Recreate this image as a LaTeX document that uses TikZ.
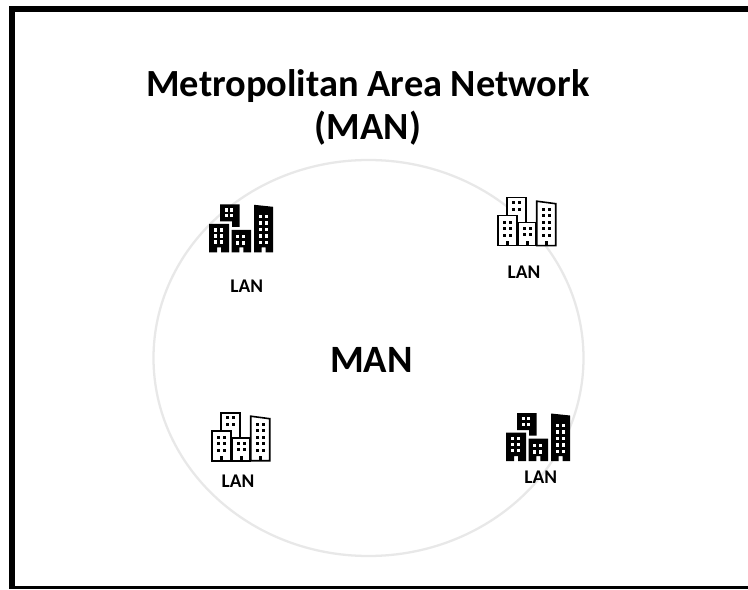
\documentclass[tikz,border=0pt]{standalone}
\usepackage{fontspec}
\setmainfont{Carlito}
\newcommand{\win}[4]{\foreach \wx in {#1}{\foreach \wy in {#2}{\fill[#3] (\wx,\wy) rectangle ++(#4,#4);}}}
\newcommand{\darkicon}[2]{\begin{scope}[shift={(#1,#2)}]
 \fill[black] (11,47.8)--(30.5,47.8)--(30.5,25.5)--(23,25.5)--(23,31)--(11,31)--cycle;
 \fill[black] (0,0)--(0,28.5)--(20,28.5)--(20,0)--(12,0)--(12,5)--(8,5)--(8,0)--cycle;
 \fill[black] (22.5,0)--(22.5,22.5)--(42,22.5)--(42,0)--(34.3,0)--(34.3,5)--(30.3,5)--(30.3,0)--cycle;
 \fill[black] (45,0)--(45,47.5)--(64,45.5)--(64,0)--(56.5,0)--(56.5,5)--(52.5,5)--(52.5,0)--cycle;
 \win{15.5,21}{35,40.6}{white}{3.4}
 \win{4.5,10.5}{8.6,14.6,20.6}{white}{3.4}
 \win{27,32.8}{7.5,13.8}{white}{3.4}
 \win{50,56}{8,14.5,21,27.5,34}{white}{3.4}
\end{scope}}
\newcommand{\lighticon}[2]{\begin{scope}[shift={(#1,#2)},line width=1.2]
 \draw[black,fill=white] (9,25)--(9,48)--(28.5,48)--(28.5,22);
 \draw[black,fill=white] (0,0) rectangle (19.5,30);
 \draw[black,fill=white] (20,0) rectangle (38.5,23);
 \draw[black,fill=white] (39,0)--(39,44.5)--(58,42)--(58,0)--cycle;
 \win{14,20.5}{35,41.5}{black}{2.8}
 \win{5,11.5}{9,15.5,22}{black}{2.8}
 \win{25,31.5}{9.5,16}{black}{2.8}
 \win{44,50.5}{9,15.5,22,28.5,35}{black}{2.8}
 \fill[black] (8.2,0) rectangle (11.4,5);
 \fill[black] (27.8,0) rectangle (31,5);
 \fill[black] (47,0) rectangle (50.2,5);
\end{scope}}
\tikzset{
 lanlabel/.style={font=\fontsize{14.5}{17}\selectfont\bfseries,text=black,inner sep=0pt},
 titlelabel/.style={font=\fontsize{28.8}{32}\selectfont\bfseries,text=black,align=center,inner sep=0pt},
 manlabel/.style={font=\fontsize{29}{32}\selectfont\bfseries,text=black,inner sep=0pt},
 ring/.style={draw=black!9,line width=1.7,fill=none}
}
\begin{document}
\begin{tikzpicture}[x=0.75pt,y=0.75pt]
\useasboundingbox (0,0) rectangle (748,589);
\fill[white] (0,0) rectangle (748,589);
\fill[black] (9,0) rectangle (15,583);
\fill[black] (9,577) rectangle (748,583);
\fill[black] (9,0) rectangle (748,3);
\draw[ring] (368.5,231) ellipse [x radius=215,y radius=198];
\node[titlelabel] (title) at (368,481.5) {Metropolitan Area Network\\(MAN)};
\node[manlabel] (man) at (371.5,229) {MAN};
\darkicon{209}{336.7}
\lighticon{497.7}{343.3}
\lighticon{211.7}{128.3}
\darkicon{506}{128}
\node[lanlabel] (lana) at (246.7,303) {LAN};
\node[lanlabel] (lanb) at (524,317) {LAN};
\node[lanlabel] (lanc) at (238,108) {LAN};
\node[lanlabel] (land) at (540.7,112) {LAN};
\end{tikzpicture}
\end{document}
